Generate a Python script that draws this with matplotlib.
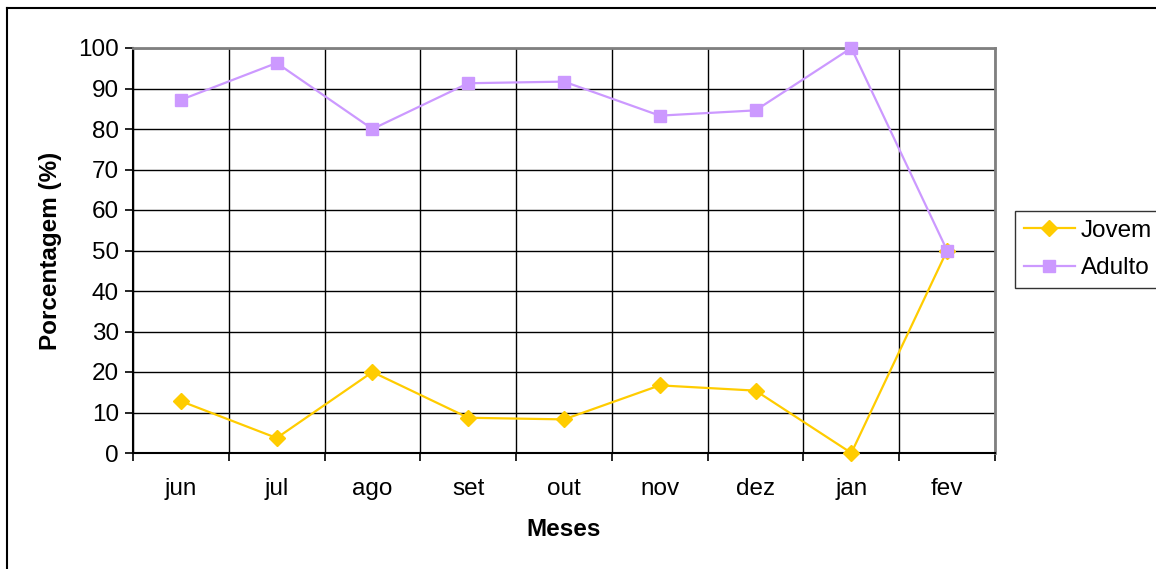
import matplotlib
matplotlib.use("Agg")
import matplotlib.pyplot as plt
from matplotlib.lines import Line2D

plt.rcParams['font.family'] = ['Liberation Sans', 'DejaVu Sans']

meses = ["jun", "jul", "ago", "set", "out", "nov", "dez", "jan", "fev"]
jovem = [12.8, 3.7, 20.0, 8.7, 8.3, 16.7, 15.4, 0.0, 50.0]
adulto = [87.2, 96.3, 80.0, 91.3, 91.7, 83.3, 84.6, 100.0, 50.0]
yticks = list(range(0, 101, 10))

FS = 17.5
W, H = 1156, 569
fig = plt.figure(figsize=(W / 100, H / 100), dpi=100)
ax = fig.add_axes([133 / W, 1 - 453 / H, (995 - 133) / W, (453 - 48) / H])

x = list(range(len(meses)))
ax.plot(x, jovem, color="#FFCC00", lw=1.6, marker="D", ms=8.5, label="Jovem", zorder=3, clip_on=False)
ax.plot(x, adulto, color="#CC99FF", lw=1.6, marker="s", ms=8.5, label="Adulto", zorder=3, clip_on=False)

ax.set_xlim(-0.5, len(meses) - 0.5)
ax.set_ylim(0, 100)
ax.set_yticks(yticks)
ax.set_yticklabels([str(v) for v in yticks])

# category boundaries carry ticks and vertical gridlines
bounds = [i - 0.5 for i in range(len(meses) + 1)]
ax.set_xticks(bounds)
ax.set_xticklabels([])
ax.set_xticks(x, minor=True)
ax.set_xticklabels(meses, minor=True)
ax.tick_params(axis="x", which="minor", length=0, pad=18, labelsize=FS)
ax.tick_params(axis="x", which="major", length=6, width=1.2, direction="out")
ax.tick_params(axis="y", length=6, width=1.2, direction="out", labelsize=FS, pad=4)

ax.grid(True, which="major", color="black", lw=1.0)
ax.set_axisbelow(True)
for s in ("top", "right"):
    ax.spines[s].set_color("#808080")
    ax.spines[s].set_linewidth(2)
for s in ("left", "bottom"):
    ax.spines[s].set_color("black")
    ax.spines[s].set_linewidth(1.5)

ax.set_ylabel("Porcentagem (%)", fontsize=FS, fontweight="bold", labelpad=12)
ax.set_xlabel("Meses", fontsize=FS, fontweight="bold", labelpad=13)

leg = fig.legend(loc="upper left", bbox_to_anchor=(1015 / W, 1 - 211 / H),
                 fontsize=FS, frameon=True, fancybox=False, edgecolor="black",
                 borderpad=0.35, handlelength=2.1, handletextpad=0.25, labelspacing=0.65,
                 borderaxespad=0)
leg.get_frame().set_linewidth(1.0)

# outer frame around the chart
fig.add_artist(Line2D([7 / W, 7 / W], [0, 1 - 8 / H], transform=fig.transFigure, color="black", lw=1.5))
fig.add_artist(Line2D([7 / W, 1], [1 - 8 / H, 1 - 8 / H], transform=fig.transFigure, color="black", lw=1.5))

fig.savefig("out.png", dpi=100)
